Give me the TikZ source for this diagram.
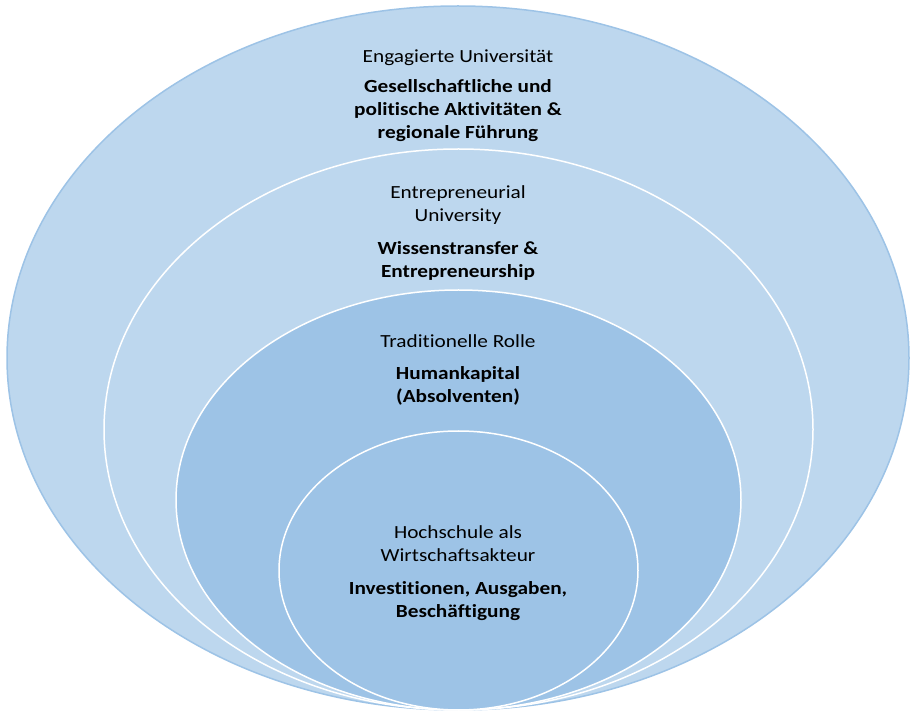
\documentclass[tikz,border=0pt]{standalone}
\usepackage{fontspec}
\setmainfont{Carlito}[FakeStretch=1.15,Ligatures=NoCommon]
\definecolor{lightfill}{HTML}{BDD7EE}
\definecolor{midfill}{HTML}{9DC3E6}
\definecolor{outerline}{HTML}{9DC3E6}
\begin{document}
\begin{tikzpicture}[x=1pt,y=-1pt,
  ring/.style={line width=1.5pt},
  titletext/.style={align=center,font=\fontsize{18.5}{23}\selectfont,inner sep=0pt,text=black},
  bodytext/.style={align=center,font=\fontsize{18.5}{23}\selectfont\bfseries,inner sep=0pt,text=black}]
\useasboundingbox (0,0) rectangle (911,711);
\filldraw[ring,fill=lightfill,draw=outerline] (458,358) ellipse [x radius=451pt,y radius=352pt];
\filldraw[ring,fill=lightfill,draw=white] (458.5,429.5) ellipse [x radius=354.5pt,y radius=280.5pt];
\filldraw[ring,fill=midfill,draw=white] (458.5,500) ellipse [x radius=282.5pt,y radius=210pt];
\filldraw[ring,fill=midfill,draw=white] (458.5,570.5) ellipse [x radius=179.5pt,y radius=139.5pt];
\node[titletext] (t1) at (458,57.5) {Engagierte Universität};
\node[bodytext] (b1) at (458,111) {Gesellschaftliche und\\politische Aktivitäten \&\\regionale Führung};
\node[titletext] (t2) at (458,205.5) {Entrepreneurial\\University};
\node[bodytext] (b2) at (458,261) {Wissenstransfer \&\\Entrepreneurship};
\node[titletext] (t3) at (458,341.5) {Traditionelle Rolle};
\node[bodytext] (b3) at (458,385.5) {Humankapital\\(Absolventen)};
\node[titletext] (t4) at (458,544) {Hochschule als\\Wirtschaftsakteur};
\node[bodytext] (b4) at (458,601) {Investitionen, Ausgaben,\\Beschäftigung};
\end{tikzpicture}
\end{document}
